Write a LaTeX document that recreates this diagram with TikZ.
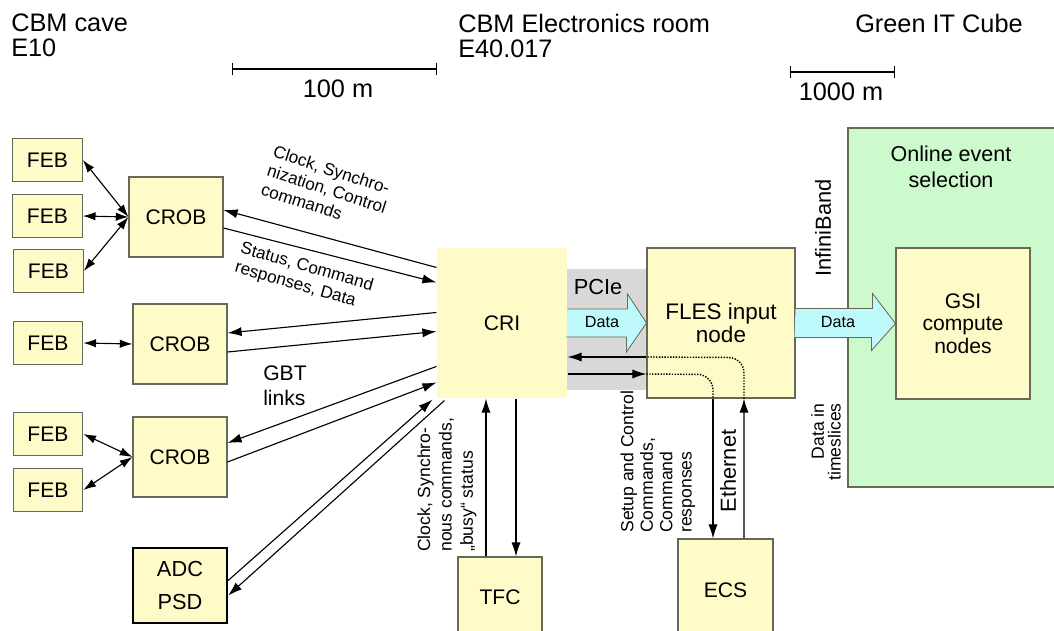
\documentclass[tikz,border=0pt]{standalone}
\usepackage{fontspec}
\setmainfont{Liberation Sans}
\usetikzlibrary{arrows.meta,positioning,calc}

\definecolor{boxfill}{RGB}{255,251,200}
\definecolor{boxline}{RGB}{104,104,88}
\definecolor{cubefill}{RGB}{204,250,204}
\definecolor{pipefill}{RGB}{190,250,252}
\definecolor{pciegray}{RGB}{216,216,216}

\tikzset{
    box/.style={draw=boxline, fill=boxfill, align=center, inner sep=0pt, line width=0.75pt, font=\fontsize{15}{17}\selectfont},
    feb/.style={box, minimum width=1.74cm, minimum height=1.06cm},
    crob/.style={box, minimum width=2.35cm, minimum height=2cm},
    gbt/.style={line width=0.8pt, -{Latex[length=10pt,width=6.5pt]}},
    dbl/.style={line width=0.8pt, {Latex[length=9pt,width=6pt]}-{Latex[length=9pt,width=6pt]}},
    dots/.style={densely dotted, line width=1pt, rounded corners=11pt},
    lbl/.style={font=\fontsize{12.2}{14}\selectfont, align=left, inner sep=0pt},
    hdr/.style={font=\fontsize{18}{17.8}\selectfont, align=left, inner sep=0pt},
    pipe/.style={draw=boxline, line width=0.6pt}
}

\begin{document}
\begin{tikzpicture}[x=0.025cm, y=-0.025cm]

    \useasboundingbox (0,0) rectangle (1054,631);
    \clip (0,0) rectangle (1054,631);

    % Headers and scale bars
    \node[hdr, anchor=north west] (cave) at (11,14) {CBM cave\\E10};
    \node[hdr, anchor=north west] (eroom) at (458,14) {CBM Electronics room\\E40.017};
    \node[hdr, anchor=north west] (cube) at (855,14) {Green IT Cube};
    \coordinate (s1a) at (232,69);
    \coordinate (s1b) at (437,69);
    \draw[line width=1pt, {Bar[width=9pt]}-{Bar[width=9pt]}] (s1a) -- (s1b);
    \node[hdr] (s1) at (338,89) {100 m};
    \coordinate (s2a) at (790,72);
    \coordinate (s2b) at (895,72);
    \draw[line width=1pt, {Bar[width=9pt]}-{Bar[width=9pt]}] (s2a) -- (s2b);
    \node[hdr] (s2) at (841,92) {1000 m};

    % CBM cave
    \node[feb] (feb1) at (47.5,160) {FEB};
    \node[feb] (feb2) at (47.5,216) {FEB};
    \node[feb] (feb3) at (48.5,271) {FEB};
    \node[crob] (crob1) at (176,217) {CROB};
    \node[feb] (feb4) at (48,343) {FEB};
    \node[crob] (crob2) at (180,344) {CROB};
    \node[feb] (feb5) at (48,434) {FEB};
    \node[feb] (feb6) at (48,490) {FEB};
    \node[crob] (crob3) at (180,457) {CROB};
    \node[box, minimum width=2.35cm, minimum height=1.875cm, draw=black, line width=1.6pt, font=\fontsize{15.5}{23}\selectfont] (adc) at (180,585.5) {ADC\\PSD};

    \draw[dbl] (feb1.east) -- (crob1.west);
    \draw[dbl] (feb2.east) -- (crob1.west);
    \draw[dbl] (feb3.east) -- (crob1.west);
    \draw[dbl] (feb4.east) -- (crob2.west);
    \draw[dbl] (feb5.east) -- (crob3.west);
    \draw[dbl] (feb6.east) -- (crob3.west);

    % Electronics room
    \fill[pciegray] (567,269) rectangle (647,390);
    \node[box, draw=none, minimum width=3.25cm, minimum height=3.75cm] (cri) at (502,323) {CRI};
    \node[box, minimum width=3.7cm, minimum height=3.75cm, font=\fontsize{16}{16.5}\selectfont] (fles) at (721,323) {FLES input\\node};
    \node[box, minimum width=2.1cm, minimum height=2cm] (tfc) at (500,597) {TFC};
    \node[box, minimum width=2.375cm, minimum height=2.55cm] (ecs) at (725.5,590) {ECS};

    % GBT links
    \draw[gbt] ($(cri.north west)+(0,20)$) -- ($(crob1.east)+(0,-7)$);
    \draw[gbt] ($(crob1.east)+(0,11)$) -- ($(cri.north west)+(0,35)$);
    \draw[gbt] ($(cri.north west)+(0,65)$) -- ($(crob2.east)+(0,-11)$);
    \draw[gbt] ($(crob2.east)+(0,8)$) -- ($(cri.north west)+(0,84)$);
    \draw[gbt] ($(cri.north west)+(0,119)$) -- ($(crob3.east)+(0,-14)$);
    \draw[gbt] ($(crob3.east)+(0,5)$) -- ($(cri.north west)+(0,135)$);
    \draw[gbt] ($(adc.east)+(0,-5)$) -- ($(cri.south west)+(-4,1)$);
    \draw[gbt] ($(cri.south west)+(8,2)$) -- ($(adc.east)+(0,10)$);

    \node[lbl, rotate=-18] (clk1) at (327,189) {Clock, Synchro-\\nization, Control\\commands};
    \node[lbl, rotate=-16] (stat) at (304,277) {Status, Command\\responses, Data};
    \node[font=\fontsize{15}{17.5}\selectfont, align=left, inner sep=0pt, anchor=west] (gbtl) at (263,386) {GBT\\links};

    % TFC
    \draw[gbt] ($(tfc.north)+(-14,0)$) -- ($(cri.south)+(-16,0)$);
    \draw[gbt] ($(cri.south)+(14,0)$) -- ($(tfc.north)+(16,0)$);
    \node[lbl, rotate=90, anchor=west, font=\fontsize{12.5}{15.2}\selectfont] (clk2) at (447,552) {Clock, Synchro-\\nous commands,\\„busy“ status};

    % PCIe
    \fill[pipefill] (cri.east) ++(0,-14) -- ++(60,0) -- ++(0,-15) -- (fles.west) -- ++(-20,29) -- ++(0,-15) -- ++(-60,0) -- cycle;
    \draw[pipe] (cri.east) ++(0,-14) -- ++(60,0) -- ++(0,-15) -- (fles.west) -- ++(-20,29) -- ++(0,-15) -- ++(-60,0);
    \node[font=\fontsize{15.5}{16}\selectfont, inner sep=0pt] (pcie) at (598,287) {PCIe};
    \node[font=\fontsize{11.5}{12}\selectfont, inner sep=0pt] (d1) at (602,322) {Data};

    % Ethernet to ECS
    \draw[gbt] ($(ecs.north)+(18.5,0)$) -- ($(fles.south)+(23,0)$);
    \draw[dots] ($(fles.south)+(23,0)$) -- ($(fles.south)+(23,-41)$) -- ($(fles.west)+(0,34)$);
    \draw[gbt] ($(fles.west)+(0,34)$) -- ($(cri.east)+(0,34)$);
    \draw[gbt] ($(cri.east)+(0,51)$) -- ($(fles.west)+(0,51)$);
    \draw[dots] ($(fles.west)+(0,51)$) -- ($(fles.south)+(-8,-24)$) -- ($(fles.south)+(-8,0)$);
    \draw[gbt] ($(fles.south)+(-8,0)$) -- ($(ecs.north)+(-12.5,0)$);
    \node[lbl, rotate=90, anchor=west, font=\fontsize{12.5}{13.8}\selectfont] (setup) at (658,533) {Setup and Control\\Commands,\\Command\\responses};
    \node[rotate=90, inner sep=0pt, font=\fontsize{15.5}{16}\selectfont] (eth) at (728,471) {Ethernet};

    % Green IT Cube
    \draw[boxline, line width=0.75pt, fill=cubefill] (848,128) rectangle (1062,487);
    \node[align=center, inner sep=0pt, font=\fontsize{15.3}{18.5}\selectfont] (oes) at (951,167) {Online event\\selection};
    \node[box, minimum width=3.35cm, minimum height=3.775cm, font=\fontsize{15}{16}\selectfont] (gsi) at (963,323.5) {GSI\\compute\\nodes};

    % InfiniBand
    \fill[pipefill] (fles.east) ++(0,-14.5) -- ++(77,0) -- ++(0,-15) -- (gsi.west) -- ++(-24,27) -- ++(0,-13) -- ++(-77,0) -- cycle;
    \draw[pipe] (fles.east) ++(0,-14.5) -- ++(77,0) -- ++(0,-15) -- (gsi.west) -- ++(-24,27) -- ++(0,-13) -- ++(-77,0);
    \node[font=\fontsize{11.5}{12}\selectfont, inner sep=0pt] (d2) at (838,322) {Data};
    \node[rotate=90, inner sep=0pt, font=\fontsize{15.5}{16}\selectfont] (ib) at (823,228) {InfiniBand};
    \node[rotate=90, align=right, inner sep=0pt, font=\fontsize{12.5}{12}\selectfont] (dts) at (826,442) {Data in\\timeslices};
\end{tikzpicture}
\end{document}
